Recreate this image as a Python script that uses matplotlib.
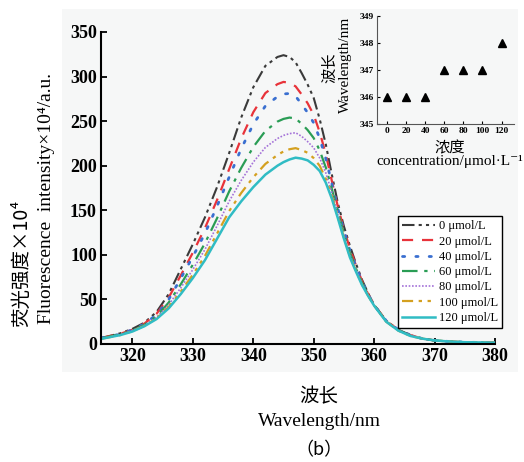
import numpy as np
import matplotlib
matplotlib.use('Agg')
import matplotlib.pyplot as plt
from matplotlib.patches import Rectangle

plt.rcParams['font.family'] = ['Liberation Serif', 'DejaVu Serif', 'Noto Sans CJK SC']

# wavelength grid (nm)
wl = [315, 318, 320, 322, 324, 326, 328, 330, 332, 334, 336, 338, 340, 342, 344,
      345, 346, 347, 348, 349, 350, 351, 352, 353, 354, 355, 356, 357, 358, 359,
      360, 362, 364, 366, 368, 370, 372, 375, 380]

# fluorescence intensity x10^4 for each concentration
f0 = [7, 12, 17, 24, 36, 56, 84, 112, 142, 176, 214, 254, 288, 312, 322,
      324, 322, 316, 304, 291, 276, 252, 224, 190, 158, 132, 110, 90, 72, 57,
      44, 26, 16, 10, 6, 4, 3, 2, 1.5]
f20 = [7, 11.5, 16, 23, 34, 52, 77, 102.5, 130, 161.5, 196, 230.5, 260, 281.5, 291.5,
       294, 293, 289, 280, 270, 257, 237.5, 213, 183, 154, 128.5, 107, 88, 70.5, 56,
       44, 26, 16, 10, 6, 4, 3, 2, 1.5]
f40 = [7, 11, 16, 22.5, 33, 50, 73.6, 98, 124, 154.5, 187, 219, 246.5, 267, 277.5,
       280.5, 281, 278, 269, 259.5, 248, 230.5, 208, 180, 151.7, 127, 105, 86.7, 70, 56,
       43.6, 26, 16, 10, 6, 4, 3, 2, 1.5]
f60 = [6.5, 11, 15, 21.5, 31, 46.5, 67, 89, 113, 141, 171, 197.5, 221, 239, 249.5,
       252.5, 254, 253, 247, 240, 231, 217, 198, 174, 148, 123.6, 102, 84.6, 68.4, 55,
       43.4, 25.5, 15.5, 9.5, 6, 4, 3, 2, 1.5]
f80 = [6, 10.5, 15, 21, 30, 44, 63, 83.5, 106, 132.5, 160, 183.5, 204, 220.5, 230.5,
       234, 236, 237, 233, 227, 220, 208.5, 192, 170, 145, 121.5, 100, 83, 67.5, 54.8,
       43.3, 25.5, 15.5, 9.5, 6, 4, 3, 2, 1.5]
f100 = [6, 10, 14.3, 20.4, 29, 41.6, 58.8, 77.8, 98.8, 123.8, 149, 169.4, 187, 202, 212,
        216, 218.5, 219.7, 217.6, 214.5, 208.5, 199.8, 185.3, 165.7, 142.7, 119.4, 98.3, 81.9, 66.6, 54.3,
        43.1, 25, 15, 9, 6, 4, 3, 2, 1.5]
f120 = [6, 10, 14, 20, 28, 40, 56, 74, 94, 118, 142, 160, 176, 190, 200,
        204, 207, 209, 208, 206, 201, 194, 181, 163, 141, 118, 97, 81, 66, 54,
        43, 25, 15, 9, 6, 4, 3, 2, 1.5]

labels = ['0 μmol/L', '20 μmol/L', '40 μmol/L', '60 μmol/L',
          '80 μmol/L', '100 μmol/L', '120 μmol/L']

# inset: emission maximum vs concentration
conc = [0, 20, 40, 60, 80, 100, 120]
peak_wl = [346, 346, 346, 347, 347, 347, 348]

series = [f0, f20, f40, f60, f80, f100, f120]
colors = ['#3a3a3a', '#e8333a', '#3a6fd0', '#2a9d55', '#a472d8', '#d4a020', '#30bcc4']
styles = [(0, (6, 2, 1.5, 2, 1.5, 2)), (0, (5, 4)), (0, (0.8, 4)), (0, (7, 3, 1.5, 3)),
          (0, (1, 1)), (0, (5, 2.5, 1.5, 2.5, 1.5, 2.5)), '-']
widths = [1.5, 1.6, 2.0, 1.6, 1.2, 1.6, 1.8]

fig = plt.figure(figsize=(5.24, 4.62), dpi=100)
fig.add_artist(Rectangle((62 / 524, 1 - 372 / 462), 456 / 524, 363 / 462,
                         transform=fig.transFigure, facecolor='#f6f7f7',
                         edgecolor='none', zorder=-10))

ax = fig.add_axes([101 / 524, 1 - 344 / 462, 394 / 524, 312 / 462])
ax.set_facecolor('none')
for s, c, ls, lw, lab in zip(series, colors, styles, widths, labels):
    line, = ax.plot(wl, s, color=c, linestyle=ls, linewidth=lw, label=lab)
    if lab.startswith('40'):
        line.set_dash_capstyle('round')

ax.set_xlim(314.8, 380)
ax.set_ylim(0, 350)
ax.set_xticks([320, 330, 340, 350, 360, 370, 380])
ax.set_yticks([0, 50, 100, 150, 200, 250, 300, 350])
ax.spines['top'].set_visible(False)
ax.spines['right'].set_visible(False)
ax.spines['left'].set_linewidth(1.5)
ax.spines['bottom'].set_linewidth(1.5)
ax.tick_params(direction='in', length=4, width=1.3, labelsize=13, pad=3)
for t in ax.get_xticklabels() + ax.get_yticklabels():
    t.set_fontweight('bold')

leg = ax.legend(loc='upper left', bbox_to_anchor=(398 / 524, 1 - 216 / 462),
                bbox_transform=fig.transFigure, fontsize=9, handlelength=2.6,
                handletextpad=0.3, labelspacing=0.26, borderpad=0.35, borderaxespad=0,
                fancybox=False, framealpha=1, facecolor='white', edgecolor='black')
leg.get_frame().set_linewidth(1.0)

# axis labels
fig.text(319 / 524, 1 - 397 / 462, '波长', ha='center', va='center', fontsize=14,
         family=['Noto Sans CJK SC'])
fig.text(319 / 524, 1 - 422 / 462, 'Wavelength/nm', ha='center', va='center', fontsize=14)
fig.text(319 / 524, 1 - 450 / 462, '（b）', ha='center', va='center', fontsize=13,
         family=['Noto Sans CJK SC'])
fig.text(22 / 524, 1 - 263 / 462, '荧光强度×10⁴', ha='center', va='center', fontsize=14,
         rotation=90, family=['Noto Sans CJK SC', 'DejaVu Serif'])
fig.text(47 / 524, 1 - 198 / 462, 'Fluorescence  intensity×10⁴/a.u.', ha='center',
         va='center', fontsize=14, rotation=90)

# inset
ins = fig.add_axes([377 / 524, 1 - 124 / 462, 137 / 524, 108 / 462])
ins.set_facecolor('none')
ins.plot(conc, peak_wl, linestyle='none', marker='^', color='black', markersize=5.5)
ins.set_xlim(-10.4, 133)
ins.set_ylim(345, 349)
ins.set_xticks(conc)
ins.set_yticks([345, 346, 347, 348, 349])
ins.spines['top'].set_visible(False)
ins.spines['right'].set_visible(False)
ins.spines['left'].set_color('#555555')
ins.spines['bottom'].set_color('#555555')
ins.tick_params(direction='in', length=2, width=0.8, labelsize=6.8, pad=2)
for t in ins.get_xticklabels() + ins.get_yticklabels():
    t.set_fontweight('bold')
fig.text(330 / 524, 1 - 68 / 462, '波长', ha='center', va='center', fontsize=11,
         rotation=90, family=['Noto Sans CJK SC'])
fig.text(345 / 524, 1 - 65 / 462, 'Wavelength/nm', ha='center', va='center', fontsize=11,
         rotation=90)
fig.text(450 / 524, 1 - 148 / 462, '浓度', ha='center', va='center', fontsize=11,
         family=['Noto Sans CJK SC'])
fig.text(450 / 524, 1 - 162 / 462, 'concentration/μmol·L⁻¹', ha='center', va='center',
         fontsize=11)

fig.savefig('out.png', dpi=100)
